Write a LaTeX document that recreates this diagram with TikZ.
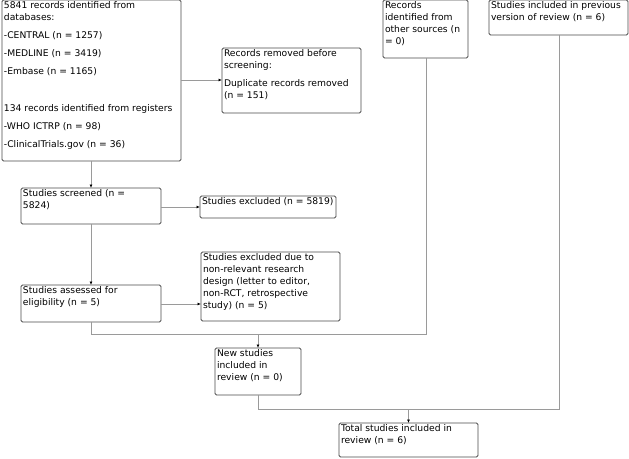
\documentclass[tikz,border=0pt]{standalone}
\usepackage{fontspec}
\setmainfont{DejaVu Sans}
\usetikzlibrary{arrows.meta}
\definecolor{boxline}{HTML}{4A4A4A}
\definecolor{flowline}{HTML}{9A9A9A}
\newcommand{\boxtext}[3]{\parbox[c][#2][t]{#1}{\raggedright\setlength{\parskip}{6pt}#3}}
\tikzset{
  box/.style={draw=boxline, line width=0.8pt, rounded corners=1.5pt, inner sep=2pt, outer sep=0pt, anchor=north west,
    font=\fontsize{9.2}{12}\selectfont},
  flow/.style={draw=flowline, line width=1pt},
  arr/.style={flow, -{Latex[length=3.5pt,width=3pt,black]}}
}
\begin{document}
\begin{tikzpicture}[x=1pt, y=-1pt]
        \useasboundingbox (0,0) rectangle (629,458);

        % Kästen
        \node[box] (db) at (2,0) {\boxtext{175pt}{157pt}{5841 records identified from\\databases:\par -CENTRAL (n = 1257)\par -MEDLINE (n = 3419)\par -Embase (n = 1165)\par\vspace{19pt}134 records identified from registers\par -WHO ICTRP (n = 98)\par -ClinicalTrials.gov (n = 36)}};
        \node[box] (removed) at (222,48) {\boxtext{135pt}{61pt}{Records removed before\\screening:\par Duplicate records removed\\(n = 151)}};
        \node[box] (other) at (383,0) {\boxtext{81pt}{54pt}{Records\\identified from\\other sources (n\\= 0)}};
        \node[box] (prev) at (489,0) {\boxtext{135pt}{31pt}{Studies included in previous\\version of review (n = 6)}};
        \node[box] (screened) at (21,188) {\boxtext{136pt}{32pt}{Studies screened (n =\\5824)}};
        \node[box] (excl) at (200,196) {\boxtext{132pt}{18pt}{Studies excluded (n = 5819)}};
        \node[box] (assessed) at (21,285) {\boxtext{136pt}{33pt}{Studies assessed for\\eligibility (n = 5)}};
        \node[box] (design) at (201,252) {\boxtext{135pt}{65pt}{Studies excluded due to\\non-relevant research\\design (letter to editor,\\non-RCT, retrospective\\study) (n = 5)}};
        \node[box] (new) at (215,348) {\boxtext{82pt}{43pt}{New studies\\included in\\review (n = 0)}};
        \node[box] (total) at (339,423) {\boxtext{135pt}{30pt}{Total studies included in\\review (n = 6)}};

        % Verbindungen
        \coordinate (j1) at (91,334);
        \coordinate (j2) at (426,334);
        \coordinate (j3) at (258,409);
        \coordinate (j4) at (559,409);

        \draw[arr] (db.east |- 0,80) -- (removed.west |- 0,80);
        \draw[arr] (db.south -| 91,0) -- (screened.north -| 91,0);
        \draw[arr] (screened.east |- 0,207) -- (excl.west |- 0,207);
        \draw[arr] (screened.south -| 91,0) -- (assessed.north -| 91,0);
        \draw[arr] (assessed.east |- 0,304) -- (design.west |- 0,304);
        \draw[flow] (assessed.south -| j1) -- (j1) -- (j2) -- (other.south -| j2);
        \draw[arr] (j1 -| new.north) -- (new.north);
        \draw[flow] (new.south) -- (j3) -- (j4) -- (prev.south -| j4);
        \draw[arr] (j3 -| total.north) -- (total.north);
    \end{tikzpicture}
\end{document}
